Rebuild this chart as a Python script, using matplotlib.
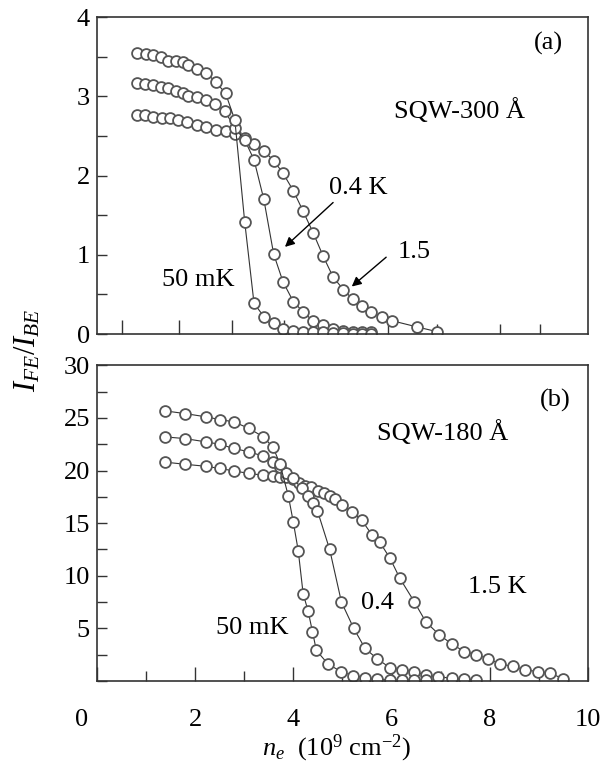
import numpy as np
import matplotlib
matplotlib.use("Agg")
import matplotlib.pyplot as plt
from matplotlib.ticker import MultipleLocator, FixedLocator, NullFormatter, FuncFormatter
from matplotlib.transforms import ScaledTranslation

plt.rcParams['font.family'] = ['Liberation Serif', 'DejaVu Serif']
plt.rcParams['mathtext.fontset'] = 'custom'
plt.rcParams['mathtext.rm'] = 'Liberation Serif'
plt.rcParams['mathtext.it'] = 'Liberation Serif:italic'

# (a) SQW-300 A
a_50mk_x = [0.81, 1.0, 1.15, 1.30, 1.45, 1.61, 1.76, 1.86, 2.03, 2.22, 2.42, 2.62, 2.81,
            3.01, 3.20, 3.40, 3.60, 3.79, 4.0, 4.2, 4.41, 4.61, 4.81, 5.02, 5.21, 5.40, 5.59]
a_50mk_y = [3.55, 3.54, 3.52, 3.49, 3.44, 3.44, 3.43, 3.39, 3.35, 3.30, 3.18, 3.04, 2.70,
            1.42, 0.39, 0.22, 0.14, 0.07, 0.04, 0.03, 0.02, 0.02, 0.01, 0.01, 0.0, 0.0, 0.0]
a_04k_x = [0.81, 0.98, 1.15, 1.30, 1.45, 1.61, 1.76, 1.86, 2.03, 2.22, 2.40, 2.60, 2.81,
           3.01, 3.20, 3.40, 3.60, 3.79, 4.0, 4.2, 4.41, 4.61, 4.81, 5.02, 5.21, 5.40, 5.59]
a_04k_y = [3.17, 3.16, 3.14, 3.12, 3.10, 3.07, 3.04, 3.01, 2.99, 2.95, 2.90, 2.82, 2.60,
           2.45, 2.20, 1.70, 1.01, 0.66, 0.41, 0.28, 0.16, 0.11, 0.06, 0.04, 0.03, 0.02, 0.02]
a_15k_x = [0.81, 0.98, 1.15, 1.32, 1.49, 1.66, 1.84, 2.03, 2.22, 2.42, 2.63, 2.81, 3.01,
           3.20, 3.40, 3.60, 3.79, 4.0, 4.2, 4.41, 4.61, 4.81, 5.02, 5.21, 5.40, 5.59,
           5.80, 6.0, 6.52, 6.93]
a_15k_y = [2.77, 2.76, 2.74, 2.73, 2.72, 2.70, 2.67, 2.64, 2.61, 2.57, 2.56, 2.53, 2.47,
           2.40, 2.31, 2.19, 2.03, 1.81, 1.55, 1.27, 0.98, 0.72, 0.56, 0.44, 0.36, 0.28,
           0.21, 0.17, 0.09, 0.03]

# (b) SQW-180 A
b_50mk_x = [1.39, 1.79, 2.23, 2.50, 2.79, 3.10, 3.39, 3.59, 3.73, 3.90, 4.0, 4.10, 4.2,
            4.30, 4.39, 4.47, 4.71, 4.97, 5.21, 5.46, 5.71, 5.97, 6.21, 6.46, 6.70]
b_50mk_y = [25.67, 25.42, 25.10, 24.85, 24.63, 24.0, 23.2, 22.2, 20.6, 17.57, 15.1, 12.4, 8.3,
            6.67, 4.69, 2.9, 1.6, 0.9, 0.5, 0.33, 0.16, 0.1, 0.08, 0.06, 0.05]
b_04k_x = [1.39, 1.79, 2.23, 2.50, 2.79, 3.10, 3.39, 3.59, 3.73, 3.86, 3.99, 4.17, 4.30,
           4.41, 4.49, 4.74, 4.98, 5.23, 5.46, 5.71, 5.97, 6.21, 6.46, 6.70, 6.95, 7.23,
           7.48, 7.72]
b_04k_y = [23.2, 23.04, 22.72, 22.5, 22.1, 21.78, 21.37, 20.8, 20.35, 19.8, 19.3, 18.3, 17.57,
           16.87, 16.2, 12.5, 7.5, 5.0, 3.1, 2.1, 1.25, 1.05, 0.9, 0.55, 0.4, 0.26,
           0.16, 0.1]
b_15k_x = [1.39, 1.79, 2.23, 2.50, 2.79, 3.10, 3.39, 3.59, 3.73, 3.86, 3.99, 4.12, 4.24,
           4.37, 4.51, 4.62, 4.74, 4.85, 5.0, 5.19, 5.39, 5.60, 5.76, 5.97, 6.17, 6.46,
           6.70, 6.97, 7.23, 7.48, 7.72, 7.97, 8.21, 8.47, 8.72, 8.98, 9.23, 9.48]
b_15k_y = [20.8, 20.6, 20.4, 20.2, 19.97, 19.72, 19.56, 19.46, 19.4, 19.34, 19.15, 18.84, 18.52,
           18.4, 18.1, 17.9, 17.6, 17.3, 16.7, 16.1, 15.3, 13.9, 13.2, 11.65, 9.75, 7.55,
           5.6, 4.4, 3.5, 2.8, 2.5, 2.1, 1.6, 1.4, 1.05, 0.9, 0.75, 0.23]

top_xticks_major = [0.51, 1.67, 2.75, 3.81]
top_xticks_minor = [4.85, 5.93, 6.92, 8.21, 9.02]

FS = 19
XPAD = 20
line_kw = dict(color='#333333', lw=0.8, marker='o', ms=7.8, mfc='white',
               mec='#555555', mew=1.3)

fig = plt.figure(figsize=(6.05, 7.68), dpi=100)
ax1 = fig.add_axes([0.160, 0.565, 0.812, 0.4128])
ax2 = fig.add_axes([0.160, 0.1133, 0.812, 0.411])

for x, y in [(a_15k_x, a_15k_y), (a_04k_x, a_04k_y), (a_50mk_x, a_50mk_y)]:
    ax1.plot(x, y, **line_kw)
for x, y in [(b_15k_x, b_15k_y), (b_04k_x, b_04k_y), (b_50mk_x, b_50mk_y)]:
    ax2.plot(x, y, **line_kw)

for ax in (ax1, ax2):
    ax.set_xlim(0, 10)
    for s in ax.spines.values():
        s.set_color('#333333')
        s.set_linewidth(1.2)
    ax.tick_params(which='both', direction='in', top=False, right=False,
                   colors='#333333', width=1.0, labelsize=FS, labelcolor='black')
    ax.tick_params(which='major', length=10)
    ax.tick_params(which='minor', length=7)
    ax.tick_params(axis='y', which='both', length=7, pad=5)

ax1.set_ylim(0, 4)
ax1.yaxis.set_major_locator(MultipleLocator(1))
ax1.yaxis.set_minor_locator(MultipleLocator(0.5))
ax1.xaxis.set_major_locator(FixedLocator(top_xticks_major))
ax1.xaxis.set_minor_locator(FixedLocator(top_xticks_minor))
ax1.xaxis.set_major_formatter(NullFormatter())

ax2.set_ylim(0, 30)
ax2.set_yticks([5, 10, 15, 20, 25, 30])
ax2.yaxis.set_minor_locator(MultipleLocator(2.5))
ax2.xaxis.set_major_locator(MultipleLocator(2))
ax2.xaxis.set_minor_locator(MultipleLocator(1))
ax2.tick_params(axis='x', which='major', pad=XPAD)
# the "0" sits left of the corner, so it is drawn separately
ax2.xaxis.set_major_formatter(FuncFormatter(lambda v, p: '' if v == 0 else '%g' % v))
ax2.text(-0.3, 0, '0', fontsize=FS, ha='center', va='top',
         transform=ax2.get_xaxis_transform() +
         ScaledTranslation(0, -XPAD / 72, fig.dpi_scale_trans))

# panel (a) annotations
ax1.text(9.19, 3.67, '(a)', fontsize=FS, ha='center', va='center')
ax1.text(7.39, 2.82, 'SQW-300 Å', fontsize=FS, ha='center', va='center')
ax1.text(5.32, 1.84, '0.4 K', fontsize=FS, ha='center', va='center')
ax1.text(6.46, 1.03, '1.5', fontsize=FS, ha='center', va='center')
ax1.text(2.06, 0.68, '50 mK', fontsize=FS, ha='center', va='center')
arrow_kw = dict(arrowstyle='-|>', color='black', lw=1.0, mutation_scale=14,
                shrinkA=0, shrinkB=0)
ax1.annotate('', xy=(3.83, 1.10), xytext=(4.81, 1.66), arrowprops=arrow_kw)
ax1.annotate('', xy=(5.19, 0.60), xytext=(5.89, 0.97), arrowprops=arrow_kw)

# panel (b) annotations
ax2.text(9.33, 26.7, '(b)', fontsize=FS, ha='center', va='center')
ax2.text(7.03, 23.6, 'SQW-180 Å', fontsize=FS, ha='center', va='center')
ax2.text(8.15, 8.9, '1.5 K', fontsize=FS, ha='center', va='center')
ax2.text(5.72, 7.4, '0.4', fontsize=FS, ha='center', va='center')
ax2.text(3.16, 5.0, '50 mK', fontsize=FS, ha='center', va='center')

fig.text(0.046, 0.544, r'$I_{FE}/I_{BE}$', fontsize=FS + 3, rotation=90,
         ha='center', va='center')
fig.text(0.556, 0.025, r'$n_e$  (10$^9$ cm$^{-2}$)', fontsize=FS,
         ha='center', va='center')

fig.savefig('out.png', dpi=100)
